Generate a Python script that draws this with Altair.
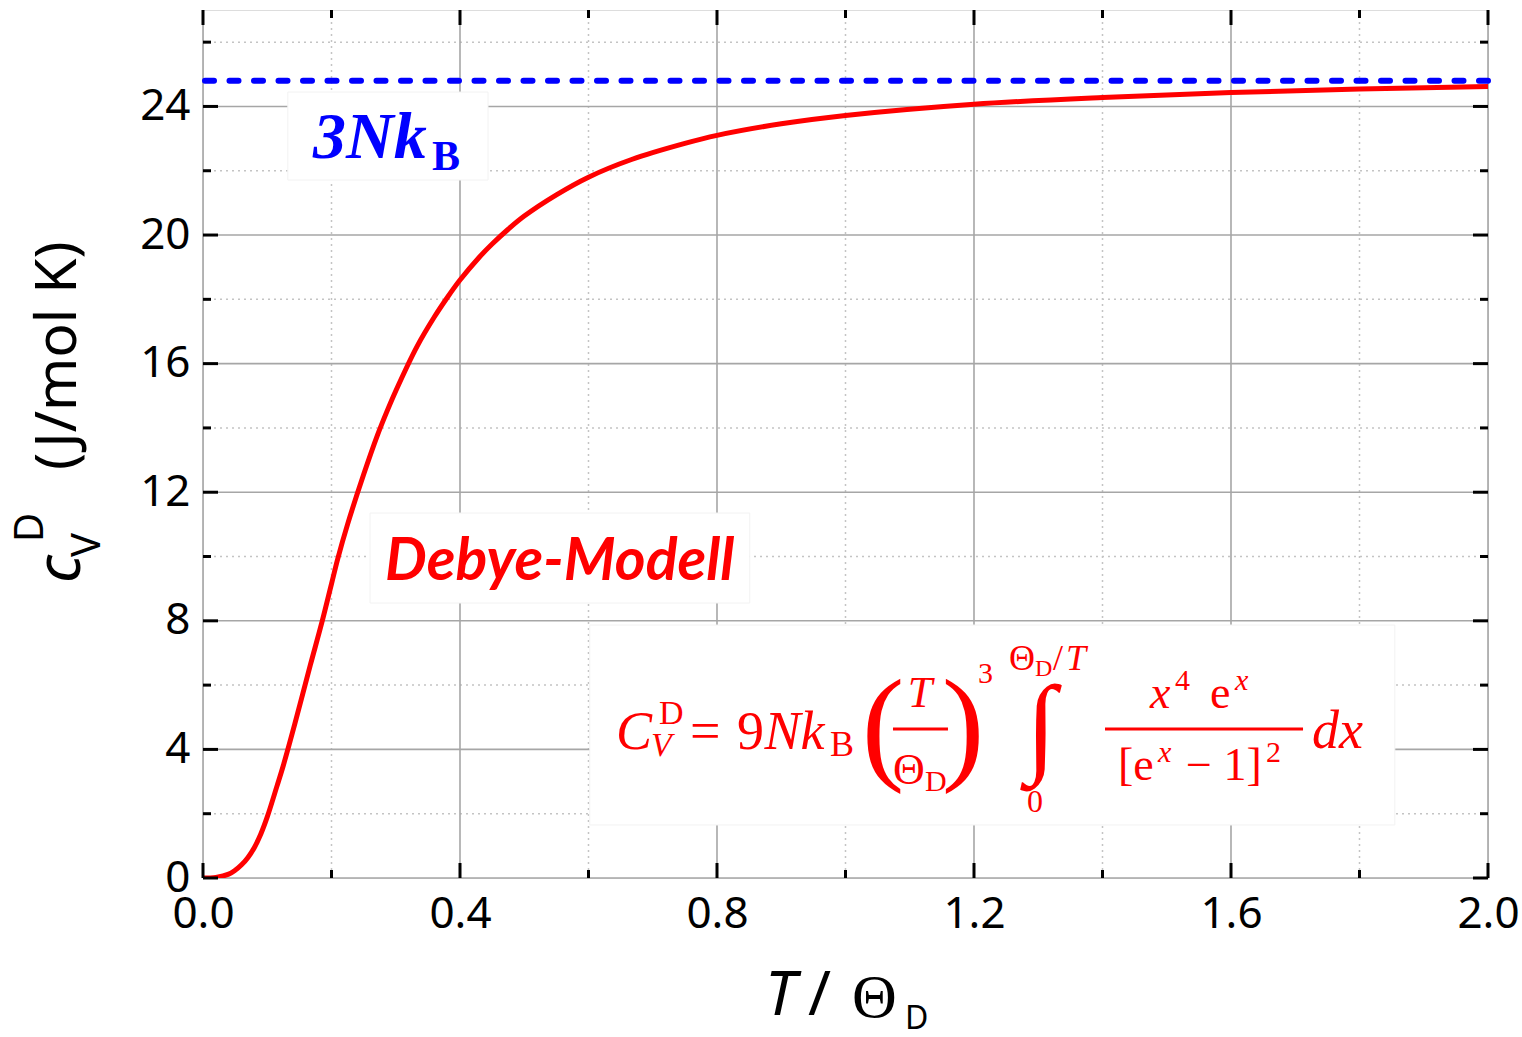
import altair as alt
import pandas as pd

# ---------------- data ----------------
T_RATIO = [0.0, 0.02, 0.04, 0.05, 0.06, 0.07, 0.08, 0.09, 0.10, 0.115, 0.125, 0.143,
           0.167, 0.185, 0.20, 0.21, 0.225, 0.25, 0.272, 0.286, 0.30, 0.333,
           0.36, 0.38, 0.40, 0.43, 0.45, 0.475, 0.50, 0.55, 0.60, 0.667, 0.75, 0.80,
           0.90, 1.00, 1.20, 1.40, 1.60, 1.80, 2.00]
CV_DEBYE = [0.0, 0.02, 0.12, 0.24, 0.41, 0.64, 0.95, 1.37, 1.9, 2.85, 3.5, 4.8,
            6.62, 7.95, 9.15, 9.95, 11.0, 12.55, 13.8, 14.5, 15.15, 16.53,
            17.45, 18.05, 18.6, 19.31, 19.72, 20.18, 20.59, 21.25, 21.8, 22.35, 22.85,
            23.1, 23.46, 23.72, 24.07, 24.28, 24.43, 24.54, 24.62]
CLASSICAL_LIMIT = [24.8]

X_MAJOR = [0.0, 0.4, 0.8, 1.2, 1.6, 2.0]
X_MINOR = [0.2, 0.6, 1.0, 1.4, 1.8]
Y_MAJOR = [0, 4, 8, 12, 16, 20, 24]
Y_MINOR = [2, 6, 10, 14, 18, 22, 26]

# white label boxes: (T1, T2, v1, v2)
BOXES = [(0.602, 1.855, 1.649, 7.869), (0.26, 0.851, 8.554, 11.353), (0.132, 0.4436, 21.711, 24.448)]
# fraction bars: (T1, T2, v)
FRAC_BARS = [(1.0739, 1.1595, 4.635), (1.4039, 1.7121, 4.635)]

SERIF = "Liberation Serif"
SANS = "Noto Sans"
RED = "#ff0000"
BLUE = "#0000ff"

# annotations: text, T, v, size, font, style, weight, color, align, angle
ANNOTATIONS = [
    # formula  C_V^D = 9 N k_B (T/Θ_D)^3 ∫_0^{Θ_D/T} x^4 e^x / [e^x - 1]^2 dx
    ("C", 0.6428, 4.012, 54, SERIF, "italic", "normal", RED, "left", 0),
    ("D", 0.7097, 4.790, 34, SERIF, "normal", "normal", RED, "left", 0),
    ("V", 0.6972, 3.795, 34, SERIF, "italic", "normal", RED, "left", 0),
    ("=", 0.7580, 4.012, 54, SERIF, "normal", "normal", RED, "left", 0),
    ("9", 0.8311, 4.012, 54, SERIF, "normal", "normal", RED, "left", 0),
    ("Nk", 0.8740, 4.012, 54, SERIF, "italic", "normal", RED, "left", 0),
    ("B", 0.9759, 3.795, 36, SERIF, "normal", "normal", RED, "left", 0),
    ("(", 1.0584, 3.453, 128, SERIF, "normal", "normal", RED, "center", 0),
    ("T", 1.1160, 5.319, 44, SERIF, "italic", "normal", RED, "center", 0),
    ("Θ", 1.0739, 2.924, 44, SERIF, "normal", "normal", RED, "left", 0),
    ("D", 1.1237, 2.706, 30, SERIF, "normal", "normal", RED, "left", 0),
    (")", 1.1829, 3.453, 128, SERIF, "normal", "normal", RED, "center", 0),
    ("3", 1.2062, 6.065, 30, SERIF, "normal", "normal", RED, "left", 0),
    ("∫", 1.3043, 3.608, 110, SERIF, "normal", "normal", RED, "center", 0),
    ("Θ", 1.2545, 6.470, 36, SERIF, "normal", "normal", RED, "left", 0),
    ("D", 1.2950, 6.283, 24, SERIF, "normal", "normal", RED, "left", 0),
    ("/", 1.3230, 6.470, 36, SERIF, "normal", "normal", RED, "left", 0),
    ("T", 1.3432, 6.470, 36, SERIF, "italic", "normal", RED, "left", 0),
    ("0", 1.2950, 2.053, 32, SERIF, "normal", "normal", RED, "center", 0),
    ("x", 1.4739, 5.288, 46, SERIF, "italic", "normal", RED, "left", 0),
    ("4", 1.5128, 5.848, 30, SERIF, "normal", "normal", RED, "left", 0),
    ("e", 1.5673, 5.288, 46, SERIF, "normal", "normal", RED, "left", 0),
    ("x", 1.6062, 5.848, 30, SERIF, "italic", "normal", RED, "left", 0),
    ("[e", 1.4241, 3.048, 46, SERIF, "normal", "normal", RED, "left", 0),
    ("x", 1.4864, 3.608, 30, SERIF, "italic", "normal", RED, "left", 0),
    ("− 1]", 1.5300, 3.048, 46, SERIF, "normal", "normal", RED, "left", 0),
    ("2", 1.6545, 3.608, 30, SERIF, "normal", "normal", RED, "left", 0),
    ("dx", 1.7261, 4.044, 54, SERIF, "italic", "normal", RED, "left", 0),
    # labels
    ("3Nk", 0.1712, 22.395, 66, SERIF, "italic", "bold", BLUE, "left", 0),
    ("B", 0.3564, 22.022, 42, SERIF, "normal", "bold", BLUE, "left", 0),
    ("Debye-Modell", 0.2833, 9.269, 59, "Lato", "italic", "bold", RED, "left", 0),
    # x-axis title
    ("T", 0.8747, -4.261, 62, SANS, "italic", "normal", "black", "left", 0),
    ("/", 0.9416, -4.261, 62, SANS, "normal", "normal", "black", "left", 0),
    ("Θ", 1.0101, -4.323, 62, SERIF, "normal", "normal", "black", "left", 0),
    ("D", 1.0926, -4.700, 32, SANS, "normal", "normal", "black", "left", 0),
    # y-axis title (rotated)
    ("c", -0.1914, 9.176, 62, SANS, "italic", "normal", "black", "left", 270),
    ("V", -0.1603, 9.984, 40, SANS, "normal", "normal", "black", "left", 270),
    ("D", -0.2490, 10.451, 40, SANS, "normal", "normal", "black", "left", 270),
    ("(J/mol K)", -0.1977, 12.690, 57, SANS, "normal", "normal", "black", "left", 270),
]

# ---------------- chart ----------------
W, H = 1285, 868
xs = alt.Scale(domain=[0, 2], nice=False, zero=False)
ys = alt.Scale(domain=[0, 27], nice=False, zero=False)

X_AXIS = alt.Axis(values=X_MAJOR, format=".1f", labelFontSize=44, labelFont=SANS,
                  labelColor="black", ticks=False, domain=False, grid=False,
                  labelPadding=14, labelFlush=False, labelOverlap=False, title=None)
Y_AXIS = alt.Axis(values=Y_MAJOR, format="d", labelFontSize=44, labelFont=SANS,
                  labelColor="black", ticks=False, domain=False, grid=False,
                  labelPadding=13, labelOverlap=False, title=None)


def xq(field):
    return alt.X(f"{field}:Q", scale=xs, axis=X_AXIS)


def yq(field):
    return alt.Y(f"{field}:Q", scale=ys, axis=Y_AXIS)


layers = []

# minor grid (dotted)
layers.append(alt.Chart(pd.DataFrame({"T": X_MINOR})).mark_rule(
    color="#c4c4c4", strokeWidth=1.5, strokeDash=[2, 4]).encode(x=xq("T")))
layers.append(alt.Chart(pd.DataFrame({"v": Y_MINOR})).mark_rule(
    color="#c4c4c4", strokeWidth=1.5, strokeDash=[2, 4]).encode(y=yq("v")))
# major grid
layers.append(alt.Chart(pd.DataFrame({"T": X_MAJOR})).mark_rule(
    color="#a6a6a6", strokeWidth=1.6).encode(x=xq("T")))
layers.append(alt.Chart(pd.DataFrame({"v": Y_MAJOR})).mark_rule(
    color="#a6a6a6", strokeWidth=1.6).encode(y=yq("v")))

# white boxes behind annotations
box_df = pd.DataFrame(BOXES, columns=["T1", "T2", "v1", "v2"])
layers.append(alt.Chart(box_df).mark_rect(color="white", stroke="#f2f2f2", strokeWidth=1).encode(
    x=xq("T1"), x2="T2", y=yq("v1"), y2="v2"))

# 3NkB dashed limit
layers.append(alt.Chart(pd.DataFrame({"v": CLASSICAL_LIMIT})).mark_rule(
    color=BLUE, strokeWidth=6, strokeDash=[9, 15.5], strokeCap="round").encode(y=yq("v")))

# Debye curve
curve_df = pd.DataFrame({"T": T_RATIO, "v": CV_DEBYE})
layers.append(alt.Chart(curve_df).mark_line(
    color=RED, strokeWidth=5, interpolate="catmull-rom", clip=True).encode(
    x=xq("T"), y=yq("v")))

# inward ticks on all four sides
for vals, length in ((X_MAJOR, 15), (X_MINOR, 8)):
    df = pd.DataFrame({"T": vals})
    layers.append(alt.Chart(df).mark_rule(color="black", strokeWidth=3).encode(
        x=xq("T"), y=alt.value(H), y2=alt.value(H - length)))
    layers.append(alt.Chart(df).mark_rule(color="black", strokeWidth=3).encode(
        x=xq("T"), y=alt.value(0), y2=alt.value(length)))
for vals, length in ((Y_MAJOR, 15), (Y_MINOR, 8)):
    df = pd.DataFrame({"v": vals})
    layers.append(alt.Chart(df).mark_rule(color="black", strokeWidth=3).encode(
        y=yq("v"), x=alt.value(0), x2=alt.value(length)))
    layers.append(alt.Chart(df).mark_rule(color="black", strokeWidth=3).encode(
        y=yq("v"), x=alt.value(W - length), x2=alt.value(W)))

# fraction bars
frac_df = pd.DataFrame(FRAC_BARS, columns=["T1", "T2", "v"])
layers.append(alt.Chart(frac_df).mark_rule(color=RED, strokeWidth=3).encode(
    x=xq("T1"), x2="T2", y=yq("v")))

# text annotations
for (txt, t, v, size, font, style, weight, color, align, angle) in ANNOTATIONS:
    df = pd.DataFrame({"T": [t], "v": [v]})
    layers.append(alt.Chart(df).mark_text(
        text=txt, font=font, fontSize=size, fontStyle=style, fontWeight=weight,
        color=color, align=align, baseline="alphabetic", angle=angle).encode(
        x=xq("T"), y=yq("v")))

chart = alt.layer(*layers).properties(
    width=W, height=H,
    autosize=alt.AutoSizeParams(type="none"),
    padding={"left": 203, "top": 10, "right": 34, "bottom": 159},
).configure_view(stroke="black", strokeWidth=3).configure(background="white")

chart.save("out.html", embed_options={"renderer": "svg", "actions": False})
